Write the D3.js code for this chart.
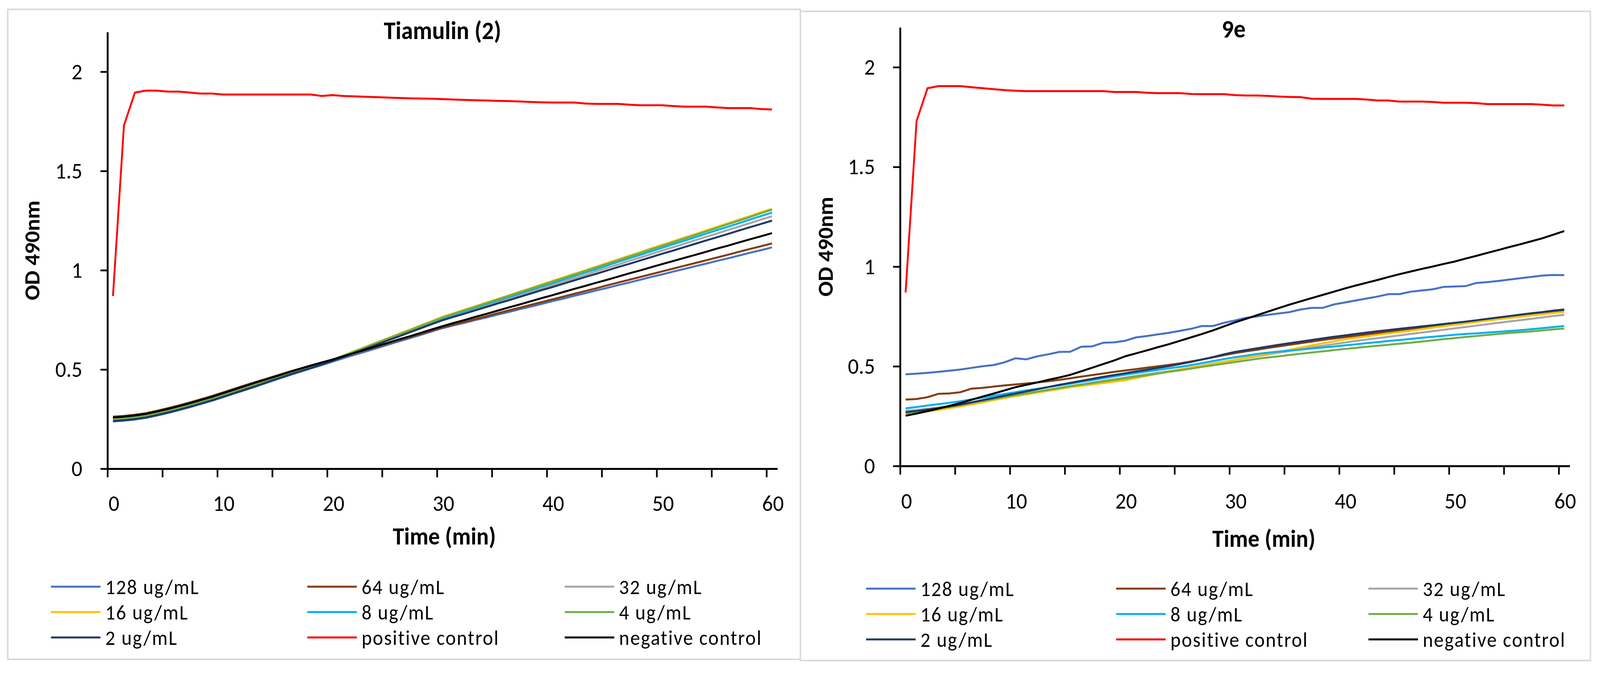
<!DOCTYPE html>
<html>
<head>
<meta charset="utf-8">
<script src="https://cdn.jsdelivr.net/npm/d3@7"></script>
<style>
  html, body { margin: 0; padding: 0; width: 100%; height: 100%; overflow: hidden; background: #fff; }
  svg { display: block; width: 100vw; height: 100vh; }
  text { font-family: Carlito, Calibri, Lato, sans-serif; fill: #000; }
</style>
</head>
<body>
<script>
// Sampling times (min), one reading per minute
var times = [0.5, 1.5, 2.5, 3.5, 4.5, 5.5, 6.5, 7.5, 8.5, 9.5,
  10.5, 11.5, 12.5, 13.5, 14.5, 15.5, 16.5, 17.5, 18.5, 19.5,
  20.5, 21.5, 22.5, 23.5, 24.5, 25.5, 26.5, 27.5, 28.5, 29.5,
  30.5, 31.5, 32.5, 33.5, 34.5, 35.5, 36.5, 37.5, 38.5, 39.5,
  40.5, 41.5, 42.5, 43.5, 44.5, 45.5, 46.5, 47.5, 48.5, 49.5,
  50.5, 51.5, 52.5, 53.5, 54.5, 55.5, 56.5, 57.5, 58.5, 59.5,
  60.5];

var seriesNames = ["128 ug/mL", "64 ug/mL", "32 ug/mL", "16 ug/mL", "8 ug/mL",
  "4 ug/mL", "2 ug/mL", "positive control", "negative control"];
var seriesColors = ["#4472C4", "#843C0C", "#A5A5A5", "#FFC000", "#00B0F0",
  "#70AD47", "#203864", "#FF0000", "#000000"];

var yTicks = [0, 0.5, 1, 1.5, 2];
var xTicks = [0, 5, 10, 15, 20, 25, 30, 35, 40, 45, 50, 55, 60];
var xTickLabels = [0, 10, 20, 30, 40, 50, 60];

// ---- Tiamulin (2) ----
var tia128 = [0.238, 0.242, 0.248, 0.256, 0.268, 0.281, 0.295, 0.310, 0.326, 0.342,
  0.360, 0.378, 0.396, 0.414, 0.433, 0.452, 0.470, 0.488, 0.505, 0.522,
  0.540, 0.557, 0.574, 0.590, 0.607, 0.624, 0.641, 0.657, 0.674, 0.691,
  0.708, 0.722, 0.735, 0.749, 0.762, 0.776, 0.789, 0.803, 0.816, 0.830,
  0.844, 0.857, 0.871, 0.884, 0.898, 0.911, 0.925, 0.938, 0.952, 0.966,
  0.979, 0.993, 1.006, 1.020, 1.033, 1.047, 1.060, 1.074, 1.088, 1.101,
  1.115];
var tia64 = [0.262, 0.266, 0.272, 0.280, 0.292, 0.305, 0.319, 0.334, 0.350, 0.366,
  0.384, 0.402, 0.420, 0.437, 0.454, 0.471, 0.488, 0.504, 0.520, 0.535,
  0.550, 0.566, 0.582, 0.598, 0.614, 0.631, 0.647, 0.663, 0.679, 0.696,
  0.712, 0.726, 0.740, 0.754, 0.768, 0.783, 0.797, 0.811, 0.825, 0.839,
  0.853, 0.867, 0.881, 0.895, 0.909, 0.924, 0.938, 0.952, 0.966, 0.980,
  0.994, 1.008, 1.022, 1.036, 1.050, 1.064, 1.078, 1.093, 1.107, 1.121,
  1.135];
var tia32 = [0.248, 0.252, 0.258, 0.266, 0.278, 0.291, 0.305, 0.320, 0.336, 0.352,
  0.370, 0.388, 0.406, 0.424, 0.443, 0.461, 0.479, 0.496, 0.513, 0.530,
  0.546, 0.567, 0.587, 0.608, 0.628, 0.649, 0.670, 0.690, 0.711, 0.731,
  0.752, 0.769, 0.787, 0.804, 0.821, 0.839, 0.856, 0.873, 0.891, 0.908,
  0.925, 0.943, 0.960, 0.977, 0.995, 1.012, 1.029, 1.047, 1.064, 1.081,
  1.099, 1.116, 1.133, 1.151, 1.168, 1.185, 1.203, 1.220, 1.237, 1.255,
  1.272];
var tia16 = [0.252, 0.256, 0.262, 0.270, 0.282, 0.295, 0.309, 0.324, 0.340, 0.356,
  0.374, 0.392, 0.410, 0.428, 0.446, 0.465, 0.483, 0.500, 0.517, 0.533,
  0.550, 0.571, 0.593, 0.614, 0.636, 0.657, 0.679, 0.700, 0.722, 0.743,
  0.765, 0.783, 0.801, 0.819, 0.837, 0.855, 0.873, 0.891, 0.909, 0.928,
  0.946, 0.964, 0.982, 1.000, 1.018, 1.037, 1.055, 1.073, 1.091, 1.110,
  1.128, 1.146, 1.164, 1.182, 1.200, 1.219, 1.237, 1.255, 1.273, 1.292,
  1.310];
var tia8 = [0.246, 0.250, 0.256, 0.264, 0.276, 0.289, 0.303, 0.318, 0.334, 0.350,
  0.368, 0.386, 0.404, 0.422, 0.441, 0.460, 0.478, 0.495, 0.512, 0.530,
  0.548, 0.569, 0.590, 0.611, 0.632, 0.653, 0.674, 0.695, 0.716, 0.737,
  0.758, 0.776, 0.793, 0.811, 0.829, 0.847, 0.864, 0.882, 0.900, 0.918,
  0.935, 0.953, 0.971, 0.989, 1.006, 1.024, 1.042, 1.060, 1.077, 1.095,
  1.113, 1.131, 1.148, 1.166, 1.184, 1.202, 1.219, 1.237, 1.255, 1.273,
  1.290];
var tia4 = [0.250, 0.254, 0.260, 0.268, 0.280, 0.293, 0.307, 0.322, 0.338, 0.354,
  0.372, 0.390, 0.408, 0.426, 0.445, 0.463, 0.481, 0.498, 0.515, 0.532,
  0.549, 0.570, 0.591, 0.612, 0.634, 0.655, 0.676, 0.697, 0.719, 0.740,
  0.762, 0.780, 0.798, 0.816, 0.834, 0.852, 0.870, 0.888, 0.906, 0.924,
  0.942, 0.960, 0.978, 0.996, 1.014, 1.032, 1.050, 1.068, 1.086, 1.105,
  1.123, 1.141, 1.159, 1.177, 1.195, 1.214, 1.232, 1.250, 1.268, 1.287,
  1.305];
var tia2 = [0.240, 0.244, 0.250, 0.258, 0.270, 0.283, 0.297, 0.312, 0.328, 0.344,
  0.362, 0.380, 0.398, 0.416, 0.435, 0.454, 0.472, 0.490, 0.507, 0.525,
  0.543, 0.564, 0.584, 0.605, 0.625, 0.646, 0.666, 0.687, 0.707, 0.728,
  0.748, 0.765, 0.781, 0.798, 0.815, 0.832, 0.848, 0.865, 0.882, 0.899,
  0.915, 0.932, 0.949, 0.966, 0.982, 0.999, 1.016, 1.032, 1.049, 1.066,
  1.083, 1.099, 1.116, 1.133, 1.150, 1.166, 1.183, 1.200, 1.217, 1.233,
  1.250];
var tiaPos = [0.87, 1.73, 1.895, 1.905, 1.905, 1.900, 1.900, 1.895, 1.890, 1.890,
  1.885, 1.885, 1.885, 1.885, 1.885, 1.885, 1.885, 1.885, 1.885, 1.878,
  1.882, 1.878, 1.876, 1.874, 1.872, 1.870, 1.868, 1.866, 1.865, 1.864,
  1.862, 1.860, 1.858, 1.856, 1.855, 1.853, 1.852, 1.850, 1.848, 1.846,
  1.845, 1.845, 1.845, 1.840, 1.838, 1.838, 1.838, 1.834, 1.831, 1.831,
  1.831, 1.827, 1.824, 1.824, 1.824, 1.820, 1.817, 1.817, 1.817, 1.812,
  1.810];
var tiaNeg = [0.258, 0.262, 0.268, 0.276, 0.288, 0.301, 0.315, 0.330, 0.346, 0.362,
  0.380, 0.398, 0.416, 0.434, 0.451, 0.468, 0.486, 0.503, 0.519, 0.535,
  0.550, 0.567, 0.584, 0.600, 0.617, 0.634, 0.651, 0.667, 0.684, 0.701,
  0.718, 0.734, 0.749, 0.765, 0.780, 0.796, 0.812, 0.827, 0.843, 0.859,
  0.874, 0.890, 0.906, 0.921, 0.937, 0.952, 0.968, 0.984, 0.999, 1.015,
  1.031, 1.046, 1.062, 1.077, 1.093, 1.109, 1.124, 1.140, 1.156, 1.171,
  1.187];

// ---- 9e ----
var c9e128 = [0.460, 0.463, 0.467, 0.472, 0.478, 0.484, 0.492, 0.500, 0.506, 0.520,
  0.540, 0.535, 0.550, 0.560, 0.572, 0.573, 0.598, 0.600, 0.618, 0.620,
  0.628, 0.645, 0.652, 0.660, 0.668, 0.678, 0.688, 0.702, 0.702, 0.718,
  0.730, 0.743, 0.750, 0.758, 0.765, 0.772, 0.785, 0.793, 0.793, 0.810,
  0.820, 0.830, 0.840, 0.850, 0.862, 0.862, 0.874, 0.880, 0.886, 0.898,
  0.900, 0.902, 0.918, 0.922, 0.928, 0.935, 0.942, 0.948, 0.955, 0.958,
  0.957];
var c9e64 = [0.333, 0.336, 0.345, 0.362, 0.364, 0.370, 0.388, 0.392, 0.398, 0.404,
  0.409, 0.414, 0.419, 0.425, 0.432, 0.440, 0.448, 0.456, 0.464, 0.472,
  0.479, 0.486, 0.493, 0.500, 0.507, 0.515, 0.524, 0.534, 0.545, 0.556,
  0.566, 0.575, 0.583, 0.592, 0.600, 0.608, 0.616, 0.624, 0.632, 0.639,
  0.646, 0.653, 0.660, 0.667, 0.673, 0.680, 0.687, 0.693, 0.699, 0.705,
  0.711, 0.718, 0.725, 0.732, 0.739, 0.746, 0.753, 0.760, 0.767, 0.773,
  0.779];
var c9e32 = [0.277, 0.281, 0.287, 0.294, 0.301, 0.309, 0.318, 0.327, 0.336, 0.345,
  0.355, 0.364, 0.373, 0.382, 0.391, 0.400, 0.409, 0.418, 0.427, 0.435,
  0.444, 0.452, 0.460, 0.468, 0.476, 0.484, 0.494, 0.504, 0.514, 0.523,
  0.532, 0.541, 0.550, 0.559, 0.568, 0.577, 0.586, 0.595, 0.603, 0.611,
  0.619, 0.627, 0.634, 0.641, 0.648, 0.655, 0.662, 0.669, 0.676, 0.683,
  0.690, 0.697, 0.704, 0.711, 0.718, 0.725, 0.731, 0.738, 0.745, 0.752,
  0.758];
var c9e16 = [0.258, 0.265, 0.273, 0.281, 0.290, 0.299, 0.309, 0.319, 0.330, 0.341,
  0.350, 0.359, 0.368, 0.377, 0.386, 0.395, 0.402, 0.409, 0.416, 0.423,
  0.430, 0.441, 0.452, 0.463, 0.474, 0.485, 0.494, 0.503, 0.512, 0.522,
  0.532, 0.542, 0.552, 0.562, 0.572, 0.583, 0.594, 0.605, 0.615, 0.625,
  0.635, 0.643, 0.650, 0.658, 0.665, 0.672, 0.679, 0.686, 0.694, 0.701,
  0.708, 0.715, 0.722, 0.729, 0.736, 0.742, 0.749, 0.755, 0.761, 0.767,
  0.773];
var c9e8 = [0.289, 0.296, 0.303, 0.310, 0.317, 0.325, 0.334, 0.343, 0.352, 0.361,
  0.370, 0.379, 0.387, 0.396, 0.404, 0.413, 0.422, 0.431, 0.440, 0.449,
  0.458, 0.466, 0.474, 0.482, 0.490, 0.497, 0.506, 0.516, 0.526, 0.536,
  0.545, 0.553, 0.562, 0.568, 0.574, 0.579, 0.584, 0.589, 0.594, 0.599,
  0.605, 0.610, 0.616, 0.621, 0.627, 0.632, 0.637, 0.643, 0.648, 0.653,
  0.658, 0.662, 0.665, 0.669, 0.673, 0.677, 0.681, 0.686, 0.691, 0.697,
  0.702];
var c9e4 = [0.265, 0.272, 0.280, 0.288, 0.297, 0.306, 0.316, 0.326, 0.336, 0.346,
  0.356, 0.364, 0.373, 0.382, 0.391, 0.400, 0.408, 0.416, 0.424, 0.432,
  0.440, 0.448, 0.456, 0.464, 0.472, 0.480, 0.488, 0.497, 0.505, 0.513,
  0.521, 0.529, 0.537, 0.544, 0.550, 0.557, 0.563, 0.569, 0.575, 0.581,
  0.587, 0.592, 0.598, 0.603, 0.608, 0.613, 0.618, 0.624, 0.630, 0.636,
  0.641, 0.647, 0.652, 0.657, 0.662, 0.667, 0.671, 0.675, 0.680, 0.685,
  0.689];
var c9e2 = [0.270, 0.276, 0.283, 0.290, 0.298, 0.308, 0.319, 0.330, 0.341, 0.352,
  0.363, 0.374, 0.385, 0.396, 0.407, 0.417, 0.427, 0.437, 0.447, 0.456,
  0.465, 0.474, 0.483, 0.492, 0.501, 0.511, 0.522, 0.534, 0.546, 0.560,
  0.572, 0.581, 0.590, 0.599, 0.608, 0.616, 0.624, 0.632, 0.640, 0.648,
  0.655, 0.662, 0.669, 0.676, 0.682, 0.688, 0.694, 0.700, 0.706, 0.712,
  0.718, 0.724, 0.731, 0.738, 0.745, 0.752, 0.759, 0.766, 0.772, 0.779,
  0.785];
var c9ePos = [0.87, 1.73, 1.895, 1.905, 1.905, 1.905, 1.900, 1.895, 1.890, 1.885,
  1.882, 1.880, 1.880, 1.880, 1.880, 1.880, 1.880, 1.880, 1.880, 1.876,
  1.876, 1.876, 1.872, 1.870, 1.870, 1.870, 1.866, 1.865, 1.865, 1.865,
  1.860, 1.858, 1.858, 1.856, 1.853, 1.851, 1.850, 1.842, 1.841, 1.841,
  1.841, 1.841, 1.838, 1.833, 1.833, 1.828, 1.828, 1.828, 1.826, 1.822,
  1.822, 1.822, 1.820, 1.815, 1.815, 1.815, 1.815, 1.815, 1.812, 1.808,
  1.808];
var c9eNeg = [0.252, 0.263, 0.275, 0.288, 0.302, 0.316, 0.332, 0.348, 0.363, 0.379,
  0.395, 0.407, 0.419, 0.432, 0.444, 0.457, 0.475, 0.493, 0.511, 0.529,
  0.550, 0.565, 0.580, 0.596, 0.611, 0.628, 0.645, 0.662, 0.680, 0.700,
  0.720, 0.738, 0.756, 0.774, 0.792, 0.810, 0.826, 0.842, 0.858, 0.874,
  0.890, 0.905, 0.919, 0.933, 0.948, 0.962, 0.975, 0.988, 1.000, 1.013,
  1.025, 1.040, 1.054, 1.069, 1.083, 1.098, 1.112, 1.127, 1.142, 1.160,
  1.178];

var tiaSeries = [tia128, tia64, tia32, tia16, tia8, tia4, tia2, tiaPos, tiaNeg];
var c9eSeries = [c9e128, c9e64, c9e32, c9e16, c9e8, c9e4, c9e2, c9ePos, c9eNeg];

// Layout of the two panels (pixels in a 4332 x 1723 frame)
var panels = [
  { title: "Tiamulin (2)", series: tiaSeries,
    box: [21, 24, 2167, 1688], xRange: [291, 2105], yRange: [1200, 82],
    titleX: 1198, titleY: 100, yLabelX: 86, timeX: 1203, timeY: 1394, tickY: 108,
    legendRows: [1502, 1567, 1632], legendCols: [138, 832, 1529] },
  { title: "9e", series: c9eSeries,
    box: [2167, 29, 4306, 1691], xRange: [2437, 4250], yRange: [1193, 70],
    titleX: 3340, titleY: 96, yLabelX: 2234, timeX: 3422, timeY: 1400, tickY: 109,
    legendRows: [1507, 1572, 1637], legendCols: [2345, 3022, 3705] }
];

// viewBox keeps the whole figure inside the window whatever its css size is
var svg = d3.select("body").append("svg")
    .attr("viewBox", "0 0 4332 1723")
    .attr("preserveAspectRatio", "none");

svg.append("rect").attr("width", 4332).attr("height", 1723).attr("fill", "#fff");

panels.forEach(function(p) {
  //chart frame
  svg.append("rect")
      .attr("x", p.box[0]).attr("y", p.box[1])
      .attr("width", p.box[2] - p.box[0]).attr("height", p.box[3] - p.box[1])
      .attr("fill", "none").attr("stroke", "#d9d9d9").attr("stroke-width", 4);

  var x = d3.scaleLinear().domain([0, 61]).range(p.xRange);
  var y = d3.scaleLinear().domain([0, 2.2]).range(p.yRange);

  //series lines, drawn in legend order so the controls end on top
  var line = d3.line()
      .x(function(d, i) { return x(times[i]); })
      .y(function(d) { return y(d); });

  p.series.forEach(function(values, k) {
    svg.append("path")
        .datum(values)
        .attr("d", line)
        .attr("fill", "none")
        .attr("stroke", seriesColors[k])
        .attr("stroke-width", 5)
        .attr("stroke-linejoin", "round");
  });

  //y axis
  var yAxis = svg.append("g")
      .attr("transform", "translate(" + p.xRange[0] + ",0)")
      .call(d3.axisLeft(y).tickValues(yTicks).tickSize(19).tickSizeOuter(0)
        .tickFormat(d3.format("~g")));
  yAxis.select(".domain").attr("stroke", "#000").attr("stroke-width", 5);
  yAxis.selectAll(".tick line").attr("stroke", "#000").attr("stroke-width", 4.5);
  yAxis.selectAll(".tick text")
      .attr("x", -68)
      .style("font-family", "Carlito, Calibri, Lato, sans-serif")
      .style("font-size", "58px")
      .attr("fill", "#000");

  //x axis, labels every 10 min
  var xAxis = svg.append("g")
      .attr("transform", "translate(0," + p.yRange[0] + ")")
      .call(d3.axisBottom(x).tickValues(xTicks).tickSize(22).tickSizeOuter(0)
        .tickFormat(function(d) { return xTickLabels.indexOf(d) >= 0 ? d : ""; }));
  xAxis.select(".domain").attr("stroke", "#000").attr("stroke-width", 5);
  xAxis.selectAll(".tick line").attr("stroke", "#000").attr("stroke-width", 4.5);
  xAxis.selectAll(".tick text")
      .attr("y", p.tickY).attr("dy", 0).attr("dx", 17)
      .style("font-family", "Carlito, Calibri, Lato, sans-serif")
      .style("font-size", "58px")
      .attr("fill", "#000");

  //titles
  svg.append("text")
      .attr("x", p.titleX).attr("y", p.titleY)
      .attr("text-anchor", "middle")
      .style("font-size", "64px").style("font-weight", "bold")
      .text(p.title);

  svg.append("text")
      .attr("x", p.timeX).attr("y", p.timeY)
      .attr("text-anchor", "middle")
      .style("font-size", "62px").style("font-weight", "bold")
      .text("Time (min)");

  svg.append("text")
      .attr("transform", "translate(" + p.yLabelX + "," + ((p.yRange[0] + p.yRange[1]) / 2) + ") rotate(-90)")
      .attr("text-anchor", "middle")
      .attr("dy", "0.35em")
      .style("font-size", "58px").style("font-weight", "bold")
      .text("OD 490nm");

  //legend: 3 columns x 3 rows
  seriesNames.forEach(function(name, k) {
    var lx = p.legendCols[k % 3];
    var ly = p.legendRows[Math.floor(k / 3)];
    svg.append("line")
        .attr("x1", lx).attr("x2", lx + 134)
        .attr("y1", ly).attr("y2", ly)
        .attr("stroke", seriesColors[k])
        .attr("stroke-width", 5);
    svg.append("text")
        .attr("x", lx + 147).attr("y", ly)
        .attr("dy", "0.36em")
        .style("font-size", "53px")
        .style("letter-spacing", "2.5px")
        .text(name);
  });
});
</script>
</body>
</html>
